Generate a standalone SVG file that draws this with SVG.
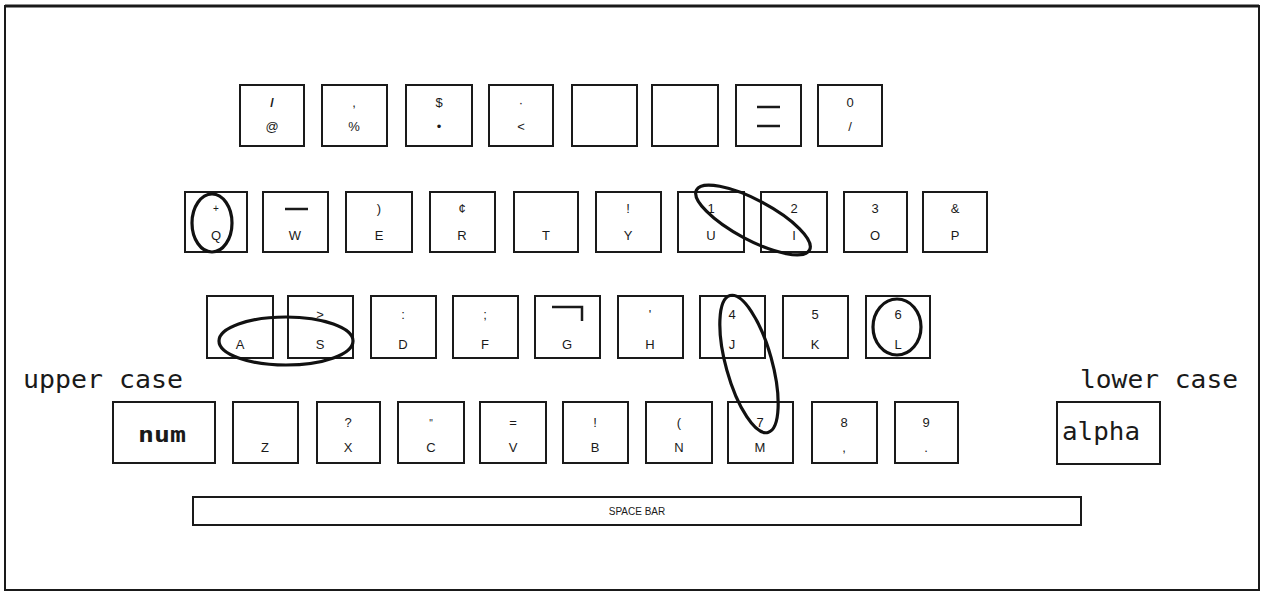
<svg xmlns="http://www.w3.org/2000/svg" width="1267" height="593" viewBox="0 0 1267 593">
<style>
.k{fill:#fff;stroke:#1a1a1a;stroke-width:2}
.t{font-family:"Liberation Sans","DejaVu Sans",sans-serif;font-size:13px;fill:#1a1a1a;text-anchor:middle}
.s{font-family:"Liberation Sans","DejaVu Sans",sans-serif;font-size:10px;fill:#1a1a1a;text-anchor:middle}
.m{font-family:"DejaVu Sans Mono","Liberation Mono",monospace;font-size:24px;fill:#1a1a1a}
.mk{fill:none;stroke:#111;stroke-width:3.2}
.ln{stroke:#1a1a1a;stroke-width:2.5;fill:none}
</style>
<rect x="0" y="0" width="1267" height="593" fill="#fff"/>
<rect x="5" y="6" width="1254" height="584" fill="none" stroke="#1a1a1a" stroke-width="2"/>
<line x1="5" y1="6" x2="1259" y2="6" stroke="#1a1a1a" stroke-width="3"/>

<text class="m" x="23" y="388" textLength="160" lengthAdjust="spacingAndGlyphs">upper case</text>
<text class="m" x="1080" y="388" textLength="158" lengthAdjust="spacingAndGlyphs">lower case</text>

<!-- Row 1 -->
<g id="key-at"><rect class="k" x="240" y="85" width="64" height="61"/><text class="t" x="272" y="107" font-weight="bold">/</text><text class="t" x="272" y="131">@</text></g>
<g id="key-percent"><rect class="k" x="322" y="85" width="65" height="61"/><text class="t" x="354" y="107">,</text><text class="t" x="354" y="131">%</text></g>
<g id="key-dollar"><rect class="k" x="406" y="85" width="66" height="61"/><text class="t" x="439" y="107">$</text><text class="t" x="439" y="131">•</text></g>
<g id="key-less"><rect class="k" x="489" y="85" width="64" height="61"/><text class="t" x="521" y="107">·</text><text class="t" x="521" y="131">&lt;</text></g>
<g id="key-blank1"><rect class="k" x="572" y="85" width="65" height="61"/></g>
<g id="key-blank2"><rect class="k" x="652" y="85" width="66" height="61"/></g>
<g id="key-dash"><rect class="k" x="736" y="85" width="65" height="61"/><line class="ln" x1="757" y1="107" x2="780" y2="107" stroke-width="3"/><line class="ln" x1="757" y1="126" x2="780" y2="126" stroke-width="3"/></g>
<g id="key-slash"><rect class="k" x="818" y="85" width="64" height="61"/><text class="t" x="850" y="107">0</text><text class="t" x="850" y="131">/</text></g>

<!-- Row 2 -->
<g id="key-Q"><rect class="k" x="185" y="192" width="62" height="60"/><text class="s" x="216" y="212">+</text><text class="t" x="216" y="240">Q</text></g>
<g id="key-W"><rect class="k" x="263" y="192" width="65" height="60"/><line class="ln" x1="285" y1="209" x2="308" y2="209" stroke-width="2"/><text class="t" x="295" y="240">W</text></g>
<g id="key-E"><rect class="k" x="346" y="192" width="66" height="60"/><text class="t" x="379" y="213">)</text><text class="t" x="379" y="240">E</text></g>
<g id="key-R"><rect class="k" x="430" y="192" width="65" height="60"/><text class="t" x="462" y="213">¢</text><text class="t" x="462" y="240">R</text></g>
<g id="key-T"><rect class="k" x="514" y="192" width="64" height="60"/><text class="t" x="546" y="240">T</text></g>
<g id="key-Y"><rect class="k" x="596" y="192" width="65" height="60"/><text class="t" x="628" y="213">!</text><text class="t" x="628" y="240">Y</text></g>
<g id="key-U"><rect class="k" x="678" y="192" width="66" height="60"/><text class="t" x="711" y="213">1</text><text class="t" x="711" y="240">U</text></g>
<g id="key-I"><rect class="k" x="761" y="192" width="66" height="60"/><text class="t" x="794" y="213">2</text><text class="t" x="794" y="240" font-family="Liberation Serif">I</text></g>
<g id="key-O"><rect class="k" x="844" y="192" width="63" height="60"/><text class="t" x="875" y="213">3</text><text class="t" x="875" y="240">O</text></g>
<g id="key-P"><rect class="k" x="923" y="192" width="64" height="60"/><text class="t" x="955" y="213">&amp;</text><text class="t" x="955" y="240">P</text></g>

<!-- Row 3 -->
<g id="key-A"><rect class="k" x="207" y="296" width="66" height="62"/><text class="t" x="240" y="349">A</text></g>
<g id="key-S"><rect class="k" x="288" y="296" width="65" height="62"/><text class="t" x="320" y="319">&gt;</text><text class="t" x="320" y="349">S</text></g>
<g id="key-D"><rect class="k" x="371" y="296" width="65" height="62"/><text class="t" x="403" y="319">:</text><text class="t" x="403" y="349">D</text></g>
<g id="key-F"><rect class="k" x="453" y="296" width="65" height="62"/><text class="t" x="485" y="319">;</text><text class="t" x="485" y="349">F</text></g>
<g id="key-G"><rect class="k" x="535" y="296" width="65" height="62"/><polyline class="ln" points="552,307 582,307 582,321" stroke-width="2"/><text class="t" x="567" y="349">G</text></g>
<g id="key-H"><rect class="k" x="618" y="296" width="65" height="62"/><text class="t" x="650" y="319">'</text><text class="t" x="650" y="349">H</text></g>
<g id="key-J"><rect class="k" x="700" y="296" width="65" height="62"/><text class="t" x="732" y="319">4</text><text class="t" x="732" y="349">J</text></g>
<g id="key-K"><rect class="k" x="783" y="296" width="65" height="62"/><text class="t" x="815" y="319">5</text><text class="t" x="815" y="349">K</text></g>
<g id="key-L"><rect class="k" x="866" y="296" width="64" height="62"/><text class="t" x="898" y="319">6</text><text class="t" x="898" y="349">L</text></g>

<!-- Row 4 -->
<g id="key-num"><rect class="k" x="113" y="402" width="102" height="61"/><text x="162" y="442" font-family="DejaVu Sans Mono, monospace" font-weight="bold" font-size="22" text-anchor="middle" textLength="48" lengthAdjust="spacingAndGlyphs" fill="#1a1a1a">num</text></g>
<g id="key-Z"><rect class="k" x="233" y="402" width="65" height="61"/><text class="t" x="265" y="452">Z</text></g>
<g id="key-X"><rect class="k" x="317" y="402" width="63" height="61"/><text class="t" x="348" y="427">?</text><text class="t" x="348" y="452">X</text></g>
<g id="key-C"><rect class="k" x="398" y="402" width="66" height="61"/><text class="s" x="431" y="427">"</text><text class="t" x="431" y="452">C</text></g>
<g id="key-V"><rect class="k" x="480" y="402" width="66" height="61"/><text class="t" x="513" y="427">=</text><text class="t" x="513" y="452">V</text></g>
<g id="key-B"><rect class="k" x="563" y="402" width="65" height="61"/><text class="t" x="595" y="427">!</text><text class="t" x="595" y="452">B</text></g>
<g id="key-N"><rect class="k" x="646" y="402" width="66" height="61"/><text class="t" x="679" y="427">(</text><text class="t" x="679" y="452">N</text></g>
<g id="key-M"><rect class="k" x="728" y="402" width="65" height="61"/><text class="t" x="760" y="427">7</text><text class="t" x="760" y="452">M</text></g>
<g id="key-comma"><rect class="k" x="812" y="402" width="65" height="61"/><text class="t" x="844" y="427">8</text><text class="t" x="844" y="452">,</text></g>
<g id="key-period"><rect class="k" x="895" y="402" width="63" height="61"/><text class="t" x="926" y="427">9</text><text class="t" x="926" y="452">.</text></g>
<g id="key-alpha"><rect class="k" x="1057" y="402" width="103" height="62"/><text class="m" x="1062" y="440" textLength="78" lengthAdjust="spacingAndGlyphs">alpha</text></g>

<g id="key-space"><rect class="k" x="193" y="497" width="888" height="28"/><text class="s" x="637" y="515">SPACE BAR</text></g>

<g id="connectors">
<ellipse class="mk" cx="212" cy="223" rx="20" ry="29"/>
<ellipse class="mk" cx="753" cy="220" rx="64" ry="20" transform="rotate(28 753 220)"/>
<ellipse class="mk" cx="286" cy="341" rx="67" ry="24"/>
<ellipse class="mk" cx="749" cy="364" rx="23" ry="71" transform="rotate(-15.5 749 364)"/>
<ellipse class="mk" cx="897" cy="327" rx="24" ry="28"/>
</g>
</svg>
